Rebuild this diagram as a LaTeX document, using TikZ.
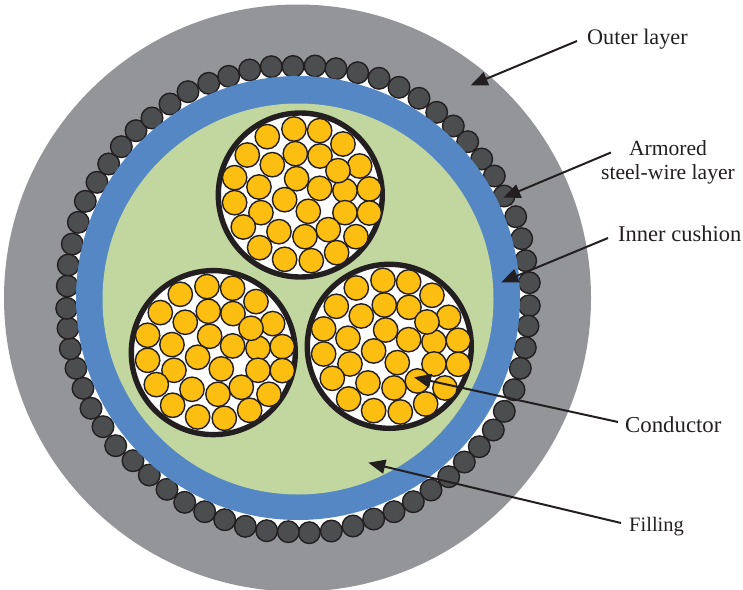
\documentclass[tikz,border=0pt]{standalone}
\usepackage{fontspec}
\setmainfont{Liberation Serif}
\usetikzlibrary{arrows.meta}
\definecolor{jacket}{HTML}{939598}
\definecolor{cushion}{HTML}{5487C4}
\definecolor{filling}{HTML}{C1D79F}
\definecolor{steel}{HTML}{4B4D4F}
\definecolor{copper}{HTML}{FDBE12}
\definecolor{ink}{HTML}{231F20}
\tikzset{
  wirecirc/.style={draw=ink,line width=1.4pt,fill=steel},
  strand/.style={draw=ink,line width=1.4pt,fill=copper},
  bundlecirc/.style={draw=ink,line width=5.4pt,fill=white},
  lbl/.style={font=\fontsize{#1}{24}\selectfont,text=ink,align=center,inner sep=0pt},
  arr/.style={draw=ink,line width=2pt,-{Triangle[length=17pt,width=14pt]}}
}
\begin{document}
\begin{tikzpicture}[x=1pt,y=-1pt]
\useasboundingbox (0,0) rectangle (743,589);
\begin{scope}
\clip (0,0) rectangle (743,589);
\fill[jacket] (297.5,298) circle[radius=293.5];
\fill[white] (297.5,298) circle[radius=232];
% armour wires
\foreach \x/\y in {
67.3/286,68.3/265,72.3/244,78.3/222.3,85.3/201.3,97/182.3,108.7/164,121.3/146.7,136/130.7,152/118,170/104,188/91.7,208.7/83.3,228.7/76.3,249.7/70,271.3/66.7,293/66.5,
315/66,336/68.7,357.7/72.7,379/78.3,399/87.3,419/98.3,436.7/112.3,453.3/126,467.7/141.7,481.7/159,494.3/176,504/196,515.7/216.7,521.7/238.7,525.7/260.7,529.3/282.7,
529.3/305.7,528/326,525.3/347.7,520.3/368.3,514/389.7,504.3/411.3,493.3/430,479.3/446.7,464.3/462,448.7/476.7,431/490,413.3/501.7,394/511.7,373.7/519,353/526,331.3/531,309.3/532.7,
288.3/531.7,266.7/530.7,245.3/526.3,224.7/519.7,204.7/511.7,184.7/502.3,167/489.3,149.3/475,133/460.7,115.7/445.7,103/426.7,91/408.3,83/388.3,76/368.3,70.3/348.7,68/328.3,66.7/308.3}
  \path[wirecirc] (\x,\y) circle[radius=10.8];
\fill[cushion] (298,298) circle[radius=222];
\fill[filling] (298,299) circle[radius=195.5];
% conductor bundles
\foreach \cx/\cy in {300.3/195,213.3/352.6,389.3/346.3}{
  \begin{scope}[shift={(\cx,\cy)}]
    \path[bundlecirc] (0,0) circle[radius=82];
    \foreach \zx/\zy in {252/87,329/92,172/110,399/132,112/165,256/161,330/168,449/198,187/194,74/233,260/236,147/261,478/267,329/265,405/272,74/308,224/299,478/339,405/338,295/334,153/338,100/381,207/395,438/410,355/389,285/410,149/443,380/458,224/478,304/482,384/212}
      \path[strand] ({(\zx-271)/3},{(\zy-285)/3}) circle[radius=12.2];
  \end{scope}
}
\end{scope}
% labels
\node[lbl=22.2,anchor=west] (outer) at (587,39) {Outer layer};
\node[lbl=21.6] (armored) at (668,162.5) {Armored\\steel-wire layer};
\node[lbl=22.5,anchor=west] (inner) at (618,234) {Inner cushion};
\node[lbl=22.8,anchor=west] (cond) at (625,425) {Conductor};
\node[lbl=20.5,anchor=west] (fill) at (629,527) {Filling};
% arrow tips
\coordinate (tipouter) at (470.7,85.3);
\coordinate (tiparmored) at (503.3,197.7);
\coordinate (tipinner) at (501.3,282.3);
\coordinate (tipcond) at (414,377.3);
\coordinate (tipfill) at (368.3,462.7);
\draw[arr] ([xshift=-10pt,yshift=-2pt]outer.west) -- (tipouter);
\draw[arr] ([xshift=10pt,yshift=10pt]armored.west) -- (tiparmored);
\draw[arr] ([xshift=-10pt,yshift=-4pt]inner.west) -- (tipinner);
\draw[arr] ([xshift=-7pt,yshift=3pt]cond.west) -- (tipcond);
\draw[arr] ([xshift=-8pt,yshift=4pt]fill.west) -- (tipfill);
\end{tikzpicture}
\end{document}
